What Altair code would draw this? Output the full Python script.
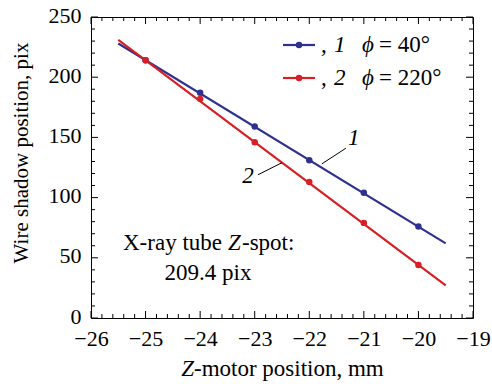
import altair as alt
import pandas as pd
import numpy as np

# Measured wire-shadow positions vs Z-motor position
z_mm = [-25, -24, -23, -22, -21, -20]
shadow_1 = [214, 187, 159, 131, 104, 76]   # phi = 40°
shadow_2 = [214, 182, 146, 113, 79, 44]    # phi = 220°

# Linear fits, drawn across the measured range
fit_z = [-25.5, -19.5]
fit_1 = [228, 62]
fit_2 = [231, 27]

series_names = ["1", "2"]
colors = ["#2e3192", "#d71f26"]

W, H = 382, 301
FONT = "Liberation Serif"
FS = 22      # tick labels
FT = 23      # titles, legend and notes

pts = pd.DataFrame({
    "z": z_mm * 2,
    "pos": shadow_1 + shadow_2,
    "s": [series_names[0]] * len(z_mm) + [series_names[1]] * len(z_mm),
})
fits = pd.DataFrame({
    "z": fit_z * 2,
    "pos": fit_1 + fit_2,
    "s": [series_names[0]] * 2 + [series_names[1]] * 2,
})

xs = alt.Scale(domain=[-26, -19], nice=False, zero=False)
ys = alt.Scale(domain=[0, 250], nice=False)
cs = alt.Scale(domain=series_names, range=colors)

x_axis = alt.Axis(values=list(range(-26, -18)), format="d", ticks=False, domain=False,
                  grid=False, labelFont=FONT, labelFontSize=FS, labelColor="black",
                  labelPadding=10, labelFlush=False, labelOverlap=False, title=None)
y_axis = alt.Axis(values=list(range(0, 251, 50)), ticks=False, domain=False, grid=False,
                  labelFont=FONT, labelFontSize=FS, labelColor="black", labelOffset=-2,
                  labelPadding=10, labelFlush=False, labelOverlap=False, title=None)

lines = alt.Chart(fits).mark_line(strokeWidth=2.2).encode(
    x=alt.X("z:Q", scale=xs, axis=x_axis),
    y=alt.Y("pos:Q", scale=ys, axis=y_axis),
    color=alt.Color("s:N", scale=cs, legend=None),
    detail="s:N",
)
points = alt.Chart(pts).mark_point(filled=True, size=42, opacity=1).encode(
    x=alt.X("z:Q", scale=xs),
    y=alt.Y("pos:Q", scale=ys),
    color=alt.Color("s:N", scale=cs, legend=None),
)

# Inward ticks on all four sides
x_major = list(range(-26, -18))
x_minor = [v for v in np.round(np.arange(-26, -19.0001, 0.2), 1) if abs(v - round(v)) > 1e-6]
y_major = list(range(0, 251, 50))
y_minor = [v for v in range(0, 251, 10) if v % 50]

def xticks(vals, length):
    d = pd.DataFrame({"z": vals})
    bottom = alt.Chart(d).mark_rule(color="black", strokeWidth=1).encode(
        x=alt.X("z:Q", scale=xs), y=alt.value(H), y2=alt.value(H - length))
    top = alt.Chart(d).mark_rule(color="black", strokeWidth=1).encode(
        x=alt.X("z:Q", scale=xs), y=alt.value(0), y2=alt.value(length))
    return bottom + top

def yticks(vals, length):
    d = pd.DataFrame({"pos": vals})
    left = alt.Chart(d).mark_rule(color="black", strokeWidth=1).encode(
        y=alt.Y("pos:Q", scale=ys), x=alt.value(0), x2=alt.value(length))
    right = alt.Chart(d).mark_rule(color="black", strokeWidth=1).encode(
        y=alt.Y("pos:Q", scale=ys), x=alt.value(W), x2=alt.value(W - length))
    return left + right

ticks = xticks(x_major, 7) + xticks(x_minor, 4) + yticks(y_major, 7) + yticks(y_minor, 4)

def txt(t, x, y, italic=False, align="left", size=FT):
    kw = dict(text=t, font=FONT, fontSize=size, align=align, baseline="alphabetic",
              color="black", fontStyle="italic" if italic else "normal")
    return alt.Chart(pd.DataFrame({"a": [0]})).mark_text(**kw).encode(
        x=alt.value(x), y=alt.value(y))

# Axis titles
x_title = txt("Z", 103, 359, italic=True, align="right") + txt("-motor position, mm", 103, 359)
y_title = (alt.Chart(pd.DataFrame({"a": [0]})).mark_text(
    text="Wire shadow position, pix", font=FONT, fontSize=21, angle=270,
    align="center", baseline="alphabetic", color="black")
    .encode(x=alt.value(-63), y=alt.value(136)))

# Legend
def legend_row(color, y, num, phi):
    d = pd.DataFrame({"a": [0]})
    ln = alt.Chart(d).mark_rule(color=color, strokeWidth=2.2).encode(
        x=alt.value(192), x2=alt.value(224), y=alt.value(y))
    pt = alt.Chart(d).mark_point(filled=True, size=42, opacity=1, color=color).encode(
        x=alt.value(208), y=alt.value(y))
    return (ln + pt + txt(",", 230, y + 7) + txt(num, 243, y + 7, italic=True)
            + txt("\u03d5", 271, y + 7, italic=True) + txt("= " + phi, 288, y + 7))

legend = legend_row(colors[0], 28, "1", "40°") + legend_row(colors[1], 61, "2", "220°")

# Curve labels with leader lines
lead = pd.DataFrame({"z": [-21.33, -21.77, -22.94, -22.5], "pos": [141, 128, 119, 129],
                     "k": ["a", "a", "b", "b"]})
leaders = alt.Chart(lead).mark_line(color="black", strokeWidth=1).encode(
    x=alt.X("z:Q", scale=xs), y=alt.Y("pos:Q", scale=ys), detail="k:N")
lab = pd.DataFrame({"z": [-21.29, -23.23], "pos": [143.5, 112], "t": ["1", "2"]})
labels = alt.Chart(lab).mark_text(font=FONT, fontSize=FT, fontStyle="italic",
                                  align="left", baseline="alphabetic", color="black").encode(
    x=alt.X("z:Q", scale=xs), y=alt.Y("pos:Q", scale=ys), text="t:N")

# Source-spot annotation
note = (txt("X-ray tube", 32, 233) + txt("Z", 137, 233, italic=True)
        + txt("-spot:", 151, 233) + txt("209.4 pix", 117, 263, align="center"))

chart = alt.layer(
    lines, points, ticks, leaders, labels, legend, note, x_title, y_title
).properties(
    width=W, height=H,
    autosize=alt.AutoSizeParams(type="none"),
    padding={"left": 91, "top": 17, "right": 19, "bottom": 66},
).configure(background="white", font=FONT).configure_view(stroke="black", strokeWidth=1)

chart.save("out.html", embed_options={"renderer": "svg", "actions": False})
